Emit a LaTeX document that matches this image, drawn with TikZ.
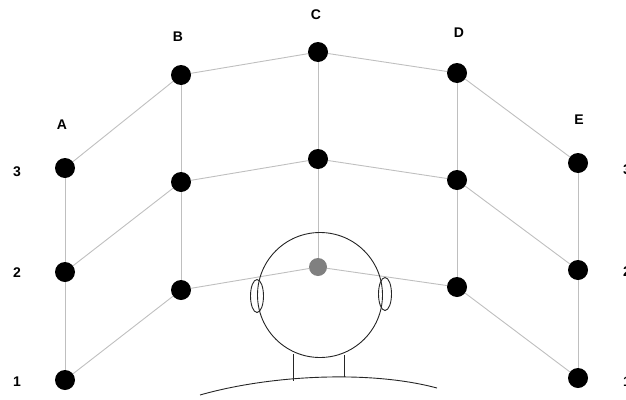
\documentclass[tikz,border=0pt]{standalone}
\usepackage{fontspec}
\setmainfont{Liberation Sans}
\usetikzlibrary{shapes.geometric,backgrounds}
\begin{document}
\begin{tikzpicture}[x=1pt,y=-1pt,
  electrode/.style={circle,fill=black,inner sep=0pt,minimum size=20pt},
  refpoint/.style={circle,fill=gray,inner sep=0pt,minimum size=18pt},
  grid/.style={draw=gray!50,line width=0.9pt},
  outline/.style={draw=black!85,line width=0.9pt},
  lab/.style={font=\bfseries\fontsize{14}{14}\selectfont,inner sep=0pt}]
\useasboundingbox (0,0) rectangle (626,399);
% electrode positions, columns A--E, rows 1--3
\node[electrode] (A3) at (65,168) {};
\node[electrode] (A2) at (65,272) {};
\node[electrode] (A1) at (65,380) {};
\node[electrode] (B3) at (181,75) {};
\node[electrode] (B2) at (181,182) {};
\node[electrode] (B1) at (181,290) {};
\node[electrode] (C3) at (318,52) {};
\node[electrode] (C2) at (318,159) {};
\node[refpoint]  (C1) at (318,267) {};
\node[electrode] (D3) at (457,73) {};
\node[electrode] (D2) at (457,180) {};
\node[electrode] (D1) at (457,287) {};
\node[electrode] (E3) at (578,163) {};
\node[electrode] (E2) at (578,270) {};
\node[electrode] (E1) at (578,378) {};
% head, ears, neck and shoulders
\node[outline,circle,minimum size=125pt,inner sep=0pt] (head) at (320,295) {};
\node[outline,ellipse,minimum width=13pt,minimum height=33pt,inner sep=0pt] (earL) at (257,296) {};
\node[outline,ellipse,minimum width=13pt,minimum height=33pt,inner sep=0pt] (earR) at (385,294) {};
\coordinate (shL) at (200,395);
\coordinate (shR) at (437,388);
\draw[outline] (shL) .. controls (270,375) and (370,370) .. (shR);
\draw[outline] (293,354) -- (293,381);
\draw[outline] (344,355) -- (344,377);
% connecting grid
\begin{scope}[on background layer]
\foreach \c in {A,B,C,D,E} {
  \draw[grid] (\c3) -- (\c2) -- (\c1);
}
\foreach \r in {1,2,3} {
  \draw[grid] (A\r) -- (B\r) -- (C\r) -- (D\r) -- (E\r);
}
\end{scope}
% column labels
\node[lab] (lA) at (62,125) {A};
\node[lab] (lB) at (178,37) {B};
\node[lab] (lC) at (316,15) {C};
\node[lab] (lD) at (459,33) {D};
\node[lab] (lE) at (579,120) {E};
% row labels (the right-hand column runs off the edge)
\node[lab] (l3) at (17,172) {3};
\node[lab] (l2) at (17,273) {2};
\node[lab] (l1) at (17,382) {1};
\node[lab] (r3) at (627,170) {3};
\node[lab] (r2) at (627,272) {2};
\node[lab] (r1) at (627,382) {1};
\end{tikzpicture}
\end{document}
